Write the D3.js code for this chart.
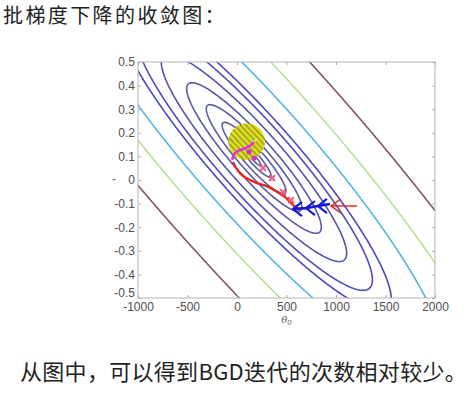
<!DOCTYPE html>
<html><head><meta charset="utf-8">
<script src="https://cdn.jsdelivr.net/npm/d3@7"></script>
<style>body{margin:0;background:#fff;} svg{display:block}</style>
</head><body><svg id="c" width="473" height="395"></svg>
<script>
// ---- data ----
const titleText = "批梯度下降的收敛图：";
const captionText = "从图中，可以得到BGD迭代的次数相对较少。";
const xTicks = [-1000,-500,0,500,1000,1500,2000];
const yTicks = [-0.5,-0.4,-0.3,-0.2,-0.1,0,0.1,0.2,0.3,0.4,0.5];
const xDomain = [-1000,2000];
const yDomain = [-0.5,0.5];
// cost J = (t0-c0)^2 + b*(t0-c0)*(t1-c1) + c*(t1-c1)^2
const costCenter = [171.7, 0.0932];
const costCoef = [1, 3925, 4.55e6];
const levels = [745, 4580, 15950, 35700, 71100, 134500, 219700, 295300, 570900, 1053000, 1968000];
const levelColors = ["#5c5ca4","#5c5ca4","#5c5ca4","#5a5aa6","#5858aa","#5454b0","#4e4eba","#4848c4","#5ab4e2","#b8e096","#855858"];
// descent paths (theta0, theta1)
const bgdT0 = [-40, -10, 40, 111, 202, 293, 394, 485, 556, 606, 636];
const bgdT1 = [0.076, 0.051, 0.025, 0.004, -0.013, -0.025, -0.047, -0.072, -0.102, -0.119, -0.127];
const crossT0 = [263, 354, 465, 545];
const crossT1 = [0.051, 0.008, -0.051, -0.085];
const arrowT0 = [1212, 949];
const arrowT1 = [-0.110, -0.110];
const arrowHeadT0 = [1050, 949, 1050];
const arrowHeadT1 = [-0.080, -0.110, -0.140];
const blueT0 = [939, 818, 697, 566];
const blueT1 = [-0.102, -0.110, -0.119, -0.123];
const blueHeadsT0 = [566, 697, 818];
const blueHeadsT1 = [-0.123, -0.119, -0.110];
const magT0 = [-50, -20, 30, 91, 141, 172];
const magT1 = [0.085, 0.114, 0.127, 0.136, 0.148, 0.161];
const magDotT0 = [172, 121];
const magDotT1 = [0.093, 0.119];
const spotT0 = 98, spotT1 = 0.162, spotR0 = 185;
const glintT0 = [131, 202], glintT1 = [0.144, 0.174];

// ---- chart ----
const svg = d3.select("#c");
const L = 138, R = 435, T = 62, B = 298;
const x = d3.scaleLinear(xDomain, [L, R]);
const y = d3.scaleLinear(yDomain, [B, T]);

svg.append("text").attr("x", 3).attr("y", 23).attr("font-family", "Noto Sans CJK SC").attr("font-size", 20).attr("letter-spacing", 2.4).attr("fill", "#222").text(titleText);
svg.append("text").attr("x", 20).attr("y", 380).attr("font-family", "Noto Sans CJK SC").attr("font-size", 22).attr("letter-spacing", 0.3).attr("fill", "#222").text(captionText);

// contours
const nx = 330, ny = 260;
const g0 = [-1100, 2100], g1 = [-0.56, 0.56];
const d0 = (g0[1]-g0[0])/(nx-1), d1 = (g1[1]-g1[0])/(ny-1);
const vals = new Float64Array(nx*ny);
for (let j = 0; j < ny; j++) for (let i = 0; i < nx; i++) {
  const a = g0[0] + i*d0 - costCenter[0], b = g1[0] + j*d1 - costCenter[1];
  vals[i + j*nx] = costCoef[0]*a*a + costCoef[1]*a*b + costCoef[2]*b*b;
}
const conts = d3.contours().size([nx, ny]).smooth(true).thresholds(levels)(vals);
const proj = d3.geoTransform({point(i, j) { this.stream.point(x(g0[0] + (i-0.5)*d0), y(g1[0] + (j-0.5)*d1)); }});
const defs = svg.append("defs");
defs.append("clipPath").attr("id", "clip").append("rect").attr("x", L).attr("y", T).attr("width", R-L).attr("height", B-T);
const pat = defs.append("pattern").attr("id", "stripes").attr("patternUnits", "userSpaceOnUse").attr("width", 12).attr("height", 4.2).attr("patternTransform", "rotate(47)");
pat.append("rect").attr("width", 12).attr("height", 4.2).attr("fill", "#e4e400");
pat.append("rect").attr("y", 1.4).attr("width", 12).attr("height", 1.3).attr("fill", "#86864a");

const plot = svg.append("g").attr("clip-path", "url(#clip)");
conts.forEach(c => {
  const k = levels.indexOf(c.value);
  plot.append("path").attr("d", d3.geoPath(proj)(c)).attr("fill", "none").attr("stroke", levelColors[k]).attr("stroke-width", 1.6);
});

// axes
const fmt = d => String(d);
const axG = svg.append("g").attr("font-family", "Liberation Sans, Arial, sans-serif");
axG.append("g").attr("transform", `translate(0,${B})`).call(d3.axisBottom(x).tickValues(xTicks).tickSizeInner(-3).tickSizeOuter(0).tickPadding(4).tickFormat(fmt));
const yl = axG.append("g").attr("transform", `translate(${L},0)`).call(d3.axisLeft(y).tickValues(yTicks).tickSizeInner(-3).tickSizeOuter(0).tickPadding(3).tickFormat(fmt));
yl.selectAll(".tick").filter(d => d === -0.5).select("text").attr("dy", "-0.1em");
axG.append("g").attr("transform", `translate(0,${T})`).call(d3.axisTop(x).tickValues(xTicks).tickSizeInner(-3).tickSizeOuter(0).tickFormat(""));
axG.append("g").attr("transform", `translate(${R},0)`).call(d3.axisRight(y).tickValues(yTicks).tickSizeInner(-3).tickSizeOuter(0).tickFormat(""));
axG.selectAll(".domain").remove();
axG.selectAll(".tick line").attr("stroke", "#aaa");
axG.selectAll(".tick text").attr("fill", "#505050").attr("font-size", 12);
svg.append("rect").attr("x", L).attr("y", T).attr("width", R-L).attr("height", B-T).attr("fill", "none").attr("stroke", "#b5b5b5");
svg.append("text").attr("x", x(500)).attr("y", 323).attr("text-anchor", "middle").attr("font-family", "DejaVu Serif").attr("font-size", 10).attr("fill", "#666")
  .call(t => { t.append("tspan").attr("font-style", "italic").text("θ"); t.append("tspan").attr("font-size", 7).attr("dy", 2).text("0"); });
svg.append("text").attr("x", 112).attr("y", 183).attr("font-family", "Liberation Sans").attr("font-size", 12).attr("fill", "#666").text("-");

// overlays
const line = d3.line().x(d => x(d[0])).y(d => y(d[1]));
const curve = d3.line().x(d => x(d[0])).y(d => y(d[1])).curve(d3.curveCatmullRom);
const zip = (a, b) => a.map((v, i) => [v, b[i]]);
const over = svg.append("g").attr("clip-path", "url(#clip)");
const rpx = x(spotT0 + spotR0) - x(spotT0);
over.append("circle").attr("cx", x(spotT0)).attr("cy", y(spotT1)).attr("r", rpx).attr("fill", "url(#stripes)").attr("opacity", 0.95);
over.append("path").attr("d", line(zip(glintT0, glintT1))).attr("stroke", "#ffff90").attr("stroke-width", 1.2).attr("fill", "none");
over.append("path").attr("d", curve(zip(bgdT0, bgdT1))).attr("stroke", "#e02828").attr("stroke-width", 2.4).attr("fill", "none").attr("stroke-linejoin", "round");
over.selectAll(".cr").data(zip(crossT0, crossT1)).join("path").attr("transform", d => `translate(${x(d[0])},${y(d[1])})`)
  .attr("d", d3.symbol(d3.symbolX, 22)).attr("stroke", "#e03050").attr("stroke-width", 1.6).attr("fill", "none");
over.selectAll(".cr2").data(zip(crossT0, crossT1)).join("circle").attr("cx", d => x(d[0])).attr("cy", d => y(d[1])).attr("r", 2.6).attr("fill", "#f080a0").attr("opacity", 0.6);
over.append("path").attr("d", line(zip(arrowT0, arrowT1))).attr("stroke", "#e03030").attr("stroke-width", 1.5).attr("fill", "none");
over.append("path").attr("d", line(zip(arrowHeadT0, arrowHeadT1))).attr("stroke", "#e03030").attr("stroke-width", 1.5).attr("fill", "none");
over.append("path").attr("d", line(zip(blueT0, blueT1))).attr("stroke", "#1818d8").attr("stroke-width", 2.6).attr("fill", "none");
zip(blueHeadsT0, blueHeadsT1).forEach(d => {
  over.append("path").attr("d", line([[d[0] + 90, d[1] + 0.03], d, [d[0] + 90, d[1] - 0.03]])).attr("stroke", "#1818d8").attr("stroke-width", 2.2).attr("fill", "none");
});
over.append("path").attr("d", curve(zip(magT0, magT1))).attr("stroke", "#e030e0").attr("stroke-width", 2.6).attr("fill", "none").attr("stroke-linejoin", "round");
over.selectAll(".md").data(zip(magDotT0, magDotT1)).join("circle").attr("cx", d => x(d[0])).attr("cy", d => y(d[1])).attr("r", 2.6).attr("fill", "#d030d0");
</script></body></html>
